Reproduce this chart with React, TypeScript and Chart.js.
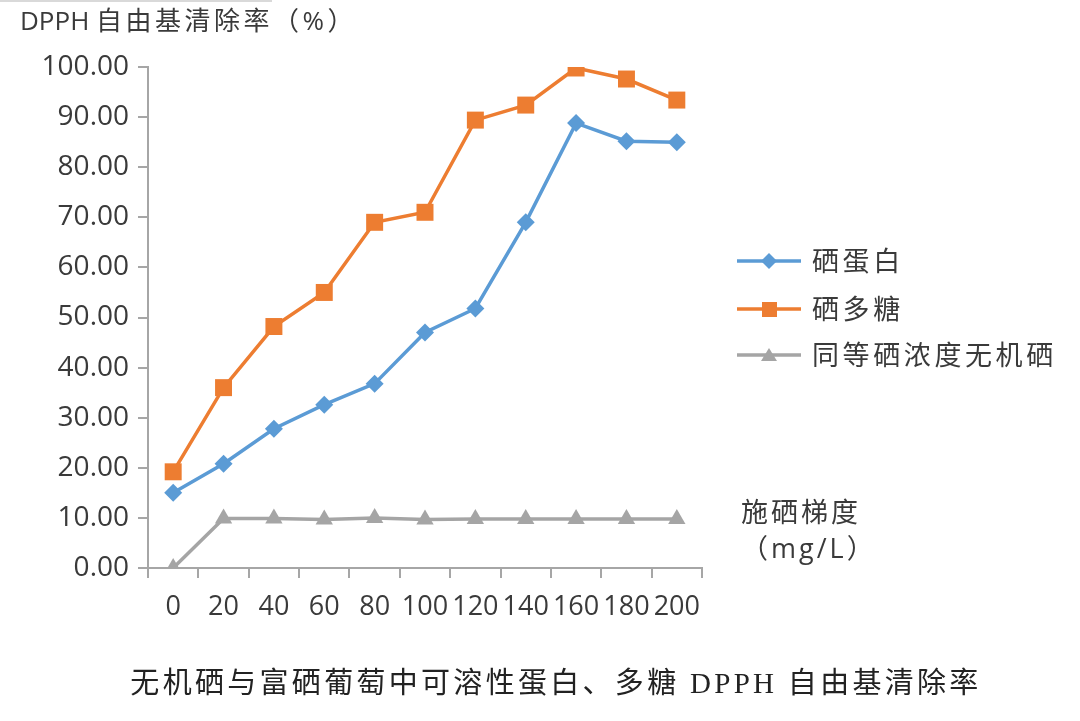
import React, { useEffect, useRef } from "react";
import { Chart, registerables } from "chart.js";

Chart.register(...registerables);

const categories = ["0", "20", "40", "60", "80", "100", "120", "140", "160", "180", "200"];
const seProtein = [15.0, 20.8, 27.8, 32.6, 36.8, 47.0, 51.8, 69.0, 88.8, 85.2, 85.0];
const sePolysaccharide = [19.2, 36.0, 48.2, 55.0, 69.0, 71.0, 89.4, 92.4, 99.8, 97.6, 93.4];
const inorganicSe = [0, 9.9, 9.9, 9.7, 10.0, 9.7, 9.8, 9.8, 9.8, 9.8, 9.8];
const seriesNames = ["硒蛋白", "硒多糖", "同等硒浓度无机硒"];
const yTicks = [0, 10, 20, 30, 40, 50, 60, 70, 80, 90, 100];

const BLUE = "#5B9BD5";
const ORANGE = "#ED7D31";
const GRAY = "#A5A5A5";
const AXIS = "#A6A6A6";
const TEXT = "#3a3a3a";
const FONT = "'Open Sans', 'Noto Sans', 'Noto Sans CJK SC', sans-serif";

function LegendMark({ color, shape }: { color: string; shape: string }) {
  return (
    <svg width="66" height="20" style={{ display: "block" }}>
      <line x1="1" y1="10" x2="65" y2="10" stroke={color} strokeWidth="3.5" />
      {shape === "diamond" && <polygon points="33,2 41,10 33,18 25,10" fill={color} />}
      {shape === "square" && <rect x="26" y="3" width="15" height="15" fill={color} />}
      {shape === "triangle" && <polygon points="33,3 41,16 25,16" fill={color} />}
    </svg>
  );
}

export default function App() {
  const ref = useRef<HTMLCanvasElement | null>(null);

  useEffect(() => {
    if (!ref.current) return;
    const chart = new Chart(ref.current, {
      type: "line",
      data: {
        labels: categories,
        datasets: [
          {
            label: seriesNames[0],
            data: seProtein,
            borderColor: BLUE,
            backgroundColor: BLUE,
            borderWidth: 3.5,
            pointStyle: "rectRot",
            pointRadius: 9,
            pointBorderWidth: 0,
            tension: 0,
          },
          {
            label: seriesNames[1],
            data: sePolysaccharide,
            borderColor: ORANGE,
            backgroundColor: ORANGE,
            borderWidth: 3.5,
            pointStyle: "rect",
            pointRadius: 12,
            pointBorderWidth: 0,
            tension: 0,
          },
          {
            label: seriesNames[2],
            data: inorganicSe,
            borderColor: GRAY,
            backgroundColor: GRAY,
            borderWidth: 3.5,
            pointStyle: "triangle",
            pointRadius: 10,
            pointBorderWidth: 0,
            tension: 0,
          },
        ],
      },
      options: {
        responsive: false,
        animation: false,
        devicePixelRatio: 1,
        layout: { padding: { left: 0, top: 67, right: 378, bottom: 0 } },
        plugins: {
          legend: { display: false },
          tooltip: { enabled: false },
          title: { display: false },
        },
        scales: {
          x: {
            type: "category",
            offset: true,
            grid: {
              display: true,
              offset: true,
              drawOnChartArea: false,
              drawTicks: true,
              tickLength: 10,
              color: AXIS,
              lineWidth: 2,
            },
            border: { display: true, color: AXIS, width: 2 },
            ticks: {
              color: TEXT,
              font: { family: FONT, size: 27 },
              padding: 13,
              maxRotation: 0,
              autoSkip: false,
            },
            afterFit: (s: any) => {
              s.height = 153;
            },
          },
          y: {
            min: 0,
            max: 100,
            afterBuildTicks: (s: any) => {
              s.ticks = yTicks.map((v) => ({ value: v }));
            },
            grid: {
              display: true,
              drawOnChartArea: false,
              drawTicks: true,
              tickLength: 10,
              color: AXIS,
              lineWidth: 2,
            },
            border: { display: true, color: AXIS, width: 2 },
            ticks: {
              color: TEXT,
              font: { family: FONT, size: 28 },
              padding: 9,
              callback: (v: any) => Number(v).toFixed(2),
            },
            afterFit: (s: any) => {
              s.width = 148;
            },
          },
        },
      },
    });
    return () => chart.destroy();
  }, []);

  const legendItems = [
    { name: seriesNames[0], color: BLUE, shape: "diamond", y: 261 },
    { name: seriesNames[1], color: ORANGE, shape: "square", y: 309 },
    { name: seriesNames[2], color: GRAY, shape: "triangle", y: 355 },
  ];

  return (
    <div style={{ position: "fixed", left: 0, top: 0, width: 1080, height: 721, background: "#fff", overflow: "hidden" }}>
      <div style={{ position: "absolute", left: 0, top: 0, width: 272, height: 2, background: "#d9d9d9" }} />
      <canvas ref={ref} width={1080} height={721} style={{ position: "absolute", left: 0, top: 0, width: 1080, height: 721 }} />
      <div
        style={{
          position: "absolute",
          left: 20,
          top: 3,
          fontFamily: FONT,
          fontSize: 26,
          lineHeight: "34px",
          color: TEXT,
          whiteSpace: "nowrap",
        }}
      >
        <span>DPPH </span>
        <span style={{ letterSpacing: 3.5 }}>自由基清除率（%）</span>
      </div>
      {legendItems.map((it) => (
        <div
          key={it.name}
          style={{ position: "absolute", left: 736, top: it.y - 18, height: 36, display: "flex", alignItems: "center" }}
        >
          <LegendMark color={it.color} shape={it.shape} />
          <span
            style={{
              marginLeft: 10,
              fontFamily: FONT,
              fontSize: 27,
              letterSpacing: 3.6,
              color: TEXT,
              whiteSpace: "nowrap",
              lineHeight: "36px",
            }}
          >
            {it.name}
          </span>
        </div>
      ))}
      <div
        style={{
          position: "absolute",
          left: 741,
          top: 494,
          fontFamily: FONT,
          fontSize: 27,
          lineHeight: "36px",
          letterSpacing: 3,
          color: TEXT,
          whiteSpace: "nowrap",
        }}
      >
        <div>施硒梯度</div>
        <div>（mg/L）</div>
      </div>
      <div
        style={{
          position: "absolute",
          left: 0,
          width: 1112,
          top: 663,
          textAlign: "center",
          fontFamily: "'Liberation Serif', 'Noto Sans CJK SC', serif",
          fontSize: 29,
          lineHeight: "40px",
          letterSpacing: 3.3,
          color: "#222",
          whiteSpace: "nowrap",
        }}
      >
        无机硒与富硒葡萄中可溶性蛋白、多糖 DPPH 自由基清除率
      </div>
    </div>
  );
}
